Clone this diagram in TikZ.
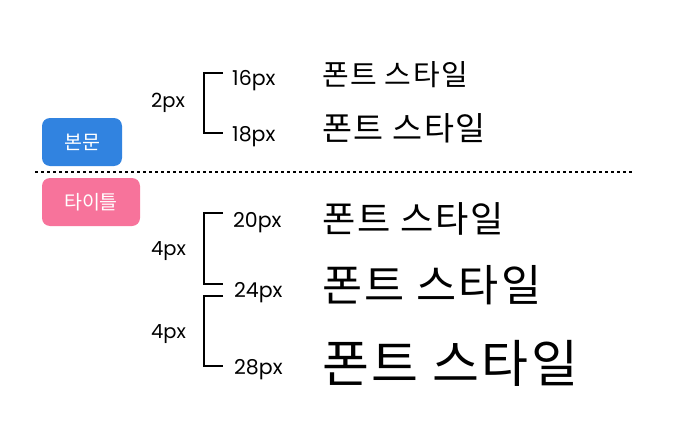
\documentclass[tikz,border=0pt]{standalone}
\usepackage{fontspec}
\setmainfont{Noto Sans CJK KR}
\newfontfamily\labelfont{Poppins}
\newfontfamily\samplefont[LetterSpace=5]{Noto Sans CJK KR}
\usetikzlibrary{positioning}

\begin{document}
\begin{tikzpicture}[
  x=1pt, y=-1pt,
  tag/.style={rounded corners=8pt, text=white, font=\fontsize{19.5}{22}\selectfont, inner sep=0pt},
  size/.style={anchor=base west, inner sep=0pt, font=\labelfont\fontsize{20.5}{23}\selectfont},
  gap/.style={anchor=base west, inner sep=0pt, font=\labelfont\fontsize{19.5}{22}\selectfont},
  sample/.style={anchor=west, inner sep=0pt},
  bracket/.style={draw=black, line width=2pt},
  divider/.style={draw=black, line width=2pt, dash pattern=on 3pt off 3pt}
]
\useasboundingbox (0,0) rectangle (685,444);

% tags
\node[tag, fill={rgb,255:red,49;green,131;blue,224}, minimum width=80pt, minimum height=48pt] (body) at (82,142) {본문};
\node[tag, fill={rgb,255:red,247;green,115;blue,155}, minimum width=98pt, minimum height=48pt] (title) at (91,202) {타이틀};

\coordinate (lineL) at (35,172);
\coordinate (lineR) at (632,172);
\draw[divider] (lineL) -- (lineR);

% body sizes
\node[size] (s16) at (232,85) {16px};
\node[size] (s18) at (232,141) {18px};
\node[gap] (g2) at (151,107) {2px};
\node[sample, font=\samplefont\fontsize{29}{31}\selectfont] (f16) at (322,75) {폰트 스타일};
\node[sample, font=\samplefont\fontsize{32.6}{35}\selectfont] (f18) at (322,128) {폰트 스타일};

% title sizes
\node[size] (s20) at (233,227) {20px};
\node[size] (s24) at (234,297) {24px};
\node[size] (s28) at (234,374) {28px};
\node[gap] (g4a) at (151,255) {4px};
\node[gap] (g4b) at (151,338) {4px};
\node[sample, font=\samplefont\fontsize{36.2}{39}\selectfont] (f20) at (322,219) {폰트 스타일};
\node[sample, font=\samplefont\fontsize{43.6}{46}\selectfont] (f24) at (322,285) {폰트 스타일};
\node[sample, font=\samplefont\fontsize{51}{54}\selectfont] (f28) at (322,363) {폰트 스타일};

% brackets
\coordinate (b1t) at (223,73);
\coordinate (b1b) at (223,133);
\coordinate (b2t) at (223,213);
\coordinate (b2b) at (223,284);
\coordinate (b3t) at (223,296);
\coordinate (b3b) at (223,366);
\draw[bracket] (b1t) -- ++(-19,0) |- (b1b);
\draw[bracket] (b2t) -- ++(-19,0) |- (b2b);
\draw[bracket] (b3t) -- ++(-19,0) |- (b3b);

\end{tikzpicture}
\end{document}
